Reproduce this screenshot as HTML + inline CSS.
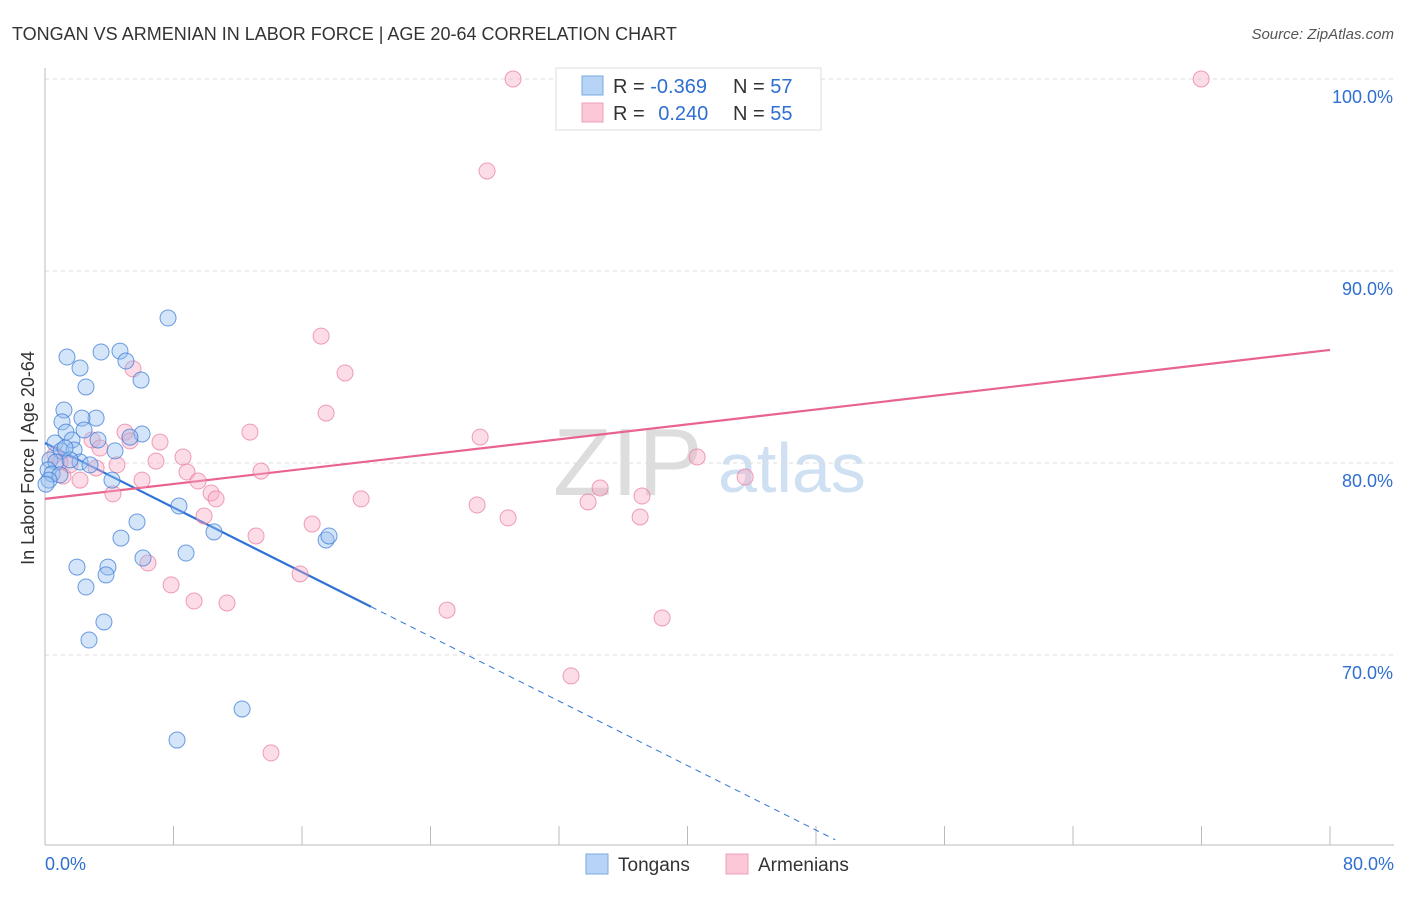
<!DOCTYPE html>
<html><head><meta charset="utf-8"><style>
body{margin:0;background:#fff;font-family:"Liberation Sans",sans-serif;}
svg text{font-family:"Liberation Sans",sans-serif;}
</style></head><body>
<svg id="chart" width="1406" height="892">
<text x="12" y="40" font-size="18" fill="#333">TONGAN VS ARMENIAN IN LABOR FORCE | AGE 20-64 CORRELATION CHART</text>
<text x="1394" y="39" font-size="15" fill="#555" font-style="italic" text-anchor="end">Source: ZipAtlas.com</text>
<text x="34" y="458" font-size="18" fill="#333" text-anchor="middle" transform="rotate(-90 34 458)">In Labor Force | Age 20-64</text>
<text x="553" y="495" font-size="96" fill="#ddd" font-family="Liberation Serif">ZIP</text>
<text x="718" y="492" font-size="70" fill="#cfe0f3">atlas</text>
<g id="grid"></g><g id="axes"></g><g id="lines"></g><g id="pts"></g>
<g>
<rect x="556" y="68" width="265" height="62" fill="#fff" stroke="#ddd"/>
<rect x="582" y="76" width="21" height="19" fill="#b7d3f5" stroke="#7aa8e0"/>
<rect x="582" y="103" width="21" height="19" fill="#fcc8d8" stroke="#f0a0b8"/>
<text x="613" y="93" font-size="20" fill="#333">R = <tspan fill="#2f6fd0">-0.369</tspan></text>
<text x="733" y="93" font-size="20" fill="#333">N = <tspan fill="#2f6fd0">57</tspan></text>
<text x="613" y="120" font-size="20" fill="#333">R = <tspan fill="#2f6fd0" dx="8">0.240</tspan></text>
<text x="733" y="120" font-size="20" fill="#333">N = <tspan fill="#2f6fd0">55</tspan></text>
</g>
<g>
<rect x="586" y="854" width="22" height="20" fill="#b7d3f5" stroke="#7aa8e0"/>
<text x="618" y="871" font-size="19" fill="#333">Tongans</text>
<rect x="726" y="854" width="22" height="20" fill="#fcc8d8" stroke="#f0a0b8"/>
<text x="758" y="871" font-size="19" fill="#333">Armenians</text>
</g>
</svg>
<script>
const xTicks=[0,8,16,24,32,40,48,56,64,72,80];
const yTicks=[70,80,90,100];
const blueX=[7.66,1.37,3.49,4.67,5.04,2.18,5.98,2.55,1.18,1.06,3.18,2.30,1.31,1.68,3.30,2.43,6.04,5.29,0.62,1.00,1.81,4.36,0.31,0.68,2.18,2.80,0.19,0.44,0.93,0.25,4.17,8.34,5.73,10.52,4.73,6.10,8.78,17.50,17.68,1.99,3.92,3.80,2.55,3.67,2.74,12.27,8.22,1.56,1.25,0.06];
const blueY=[87.55,85.52,85.78,85.83,85.31,84.95,84.32,83.96,82.76,82.14,82.34,82.34,81.61,81.20,81.20,81.72,81.51,81.35,81.04,80.63,80.68,80.63,80.16,80.05,80.05,79.90,79.64,79.43,79.38,79.11,79.11,77.76,76.93,76.41,76.09,75.05,75.31,75.99,76.20,74.58,74.58,74.17,73.54,71.72,70.78,67.19,65.57,80.16,80.78,78.9];
const pinkX=[29.14,71.98,27.52,17.19,18.68,5.48,17.50,27.09,12.76,4.98,7.16,5.29,2.93,3.42,8.59,6.91,4.48,3.18,13.45,8.84,9.53,6.04,2.18,1.12,10.34,10.65,4.23,19.68,26.90,33.81,34.56,37.17,40.60,43.59,28.83,37.05,9.90,13.14,16.63,6.41,7.85,9.28,11.33,15.88,25.03,38.42,32.75,14.07,1.56,0.62,0.93];
const pinkY=[100,100,95.21,86.61,84.69,84.90,82.60,81.35,81.61,81.61,81.09,81.15,81.20,80.78,80.31,80.10,79.90,79.74,79.58,79.53,79.06,79.11,79.11,79.32,78.44,78.13,78.39,78.13,77.81,77.97,78.70,78.28,80.31,79.27,77.14,77.19,77.24,76.20,76.82,74.79,73.65,72.81,72.71,74.22,72.34,71.93,68.91,64.90,79.90,80.42,80.05];
const blueFit=[81.04,-0.42];
const pinkFit=[78.13,0.097];
const X=v=>45+v*16.0625;
const Y=v=>79+(100-v)*19.2;
const NS="http://www.w3.org/2000/svg";
function mk(p,t,a){const e=document.createElementNS(NS,t);for(const k in a)e.setAttribute(k,a[k]);p.appendChild(e);return e;}
const grid=document.getElementById('grid'),axes=document.getElementById('axes'),lines=document.getElementById('lines'),pts=document.getElementById('pts');
yTicks.forEach(t=>{
 const l=mk(grid,'line',{x1:45,x2:1394,y1:Y(t),y2:Y(t),stroke:'#ddd','stroke-dasharray':'4,4'});
 
 
 const tx=mk(axes,'text',{x:1393,y:Y(t)+24,'font-size':18,fill:'#2f6fd0','text-anchor':'end'});tx.textContent=t.toFixed(1)+'%';
 
 
});
const ax=mk(axes,'line',{x1:45,x2:45,y1:68,y2:845,stroke:'#bbb'});


const bx=mk(axes,'line',{x1:45,x2:1394,y1:845,y2:845,stroke:'#bbb'});


xTicks.forEach(v=>{
  const tk=mk(axes,'line',{x1:X(v),x2:X(v),y1:826,y2:845,stroke:'#bbb'});
  
  
});
[[0,'start',45],[80,'end',1394]].forEach(([v,a,x])=>{
 const tx=mk(axes,'text',{x:x,y:870,'font-size':18,fill:'#2f6fd0','text-anchor':a});tx.textContent=v.toFixed(1)+'%';
 
 
});
function fy(f,x){return f[0]+f[1]*x;}
const bl=mk(lines,'line',{x1:X(0),y1:Y(fy(blueFit,0)),x2:X(20.3),y2:Y(fy(blueFit,20.3)),stroke:'#2f72d6','stroke-width':2.2});


const bd=mk(lines,'line',{x1:X(20.3),y1:Y(fy(blueFit,20.3)),x2:X(49.2),y2:Y(fy(blueFit,49.2)),stroke:'#2f72d6','stroke-width':1,'stroke-dasharray':'6,5'});


const pl=mk(lines,'line',{x1:X(0),y1:Y(fy(pinkFit,0)),x2:X(80),y2:Y(fy(pinkFit,80)),stroke:'#e8648e','stroke-width':2.2});


pinkX.forEach((x,i)=>{
 const c=mk(pts,'circle',{cx:X(x),cy:Y(pinkY[i]),r:8,fill:'rgba(248,170,195,0.4)',stroke:'rgba(232,120,155,0.7)','stroke-width':1});
 
 
});
blueX.forEach((x,i)=>{
 const c=mk(pts,'circle',{cx:X(x),cy:Y(blueY[i]),r:8,fill:'rgba(150,190,240,0.4)',stroke:'rgba(60,125,215,0.75)','stroke-width':1});
 
 
});
</script>
</body></html>
